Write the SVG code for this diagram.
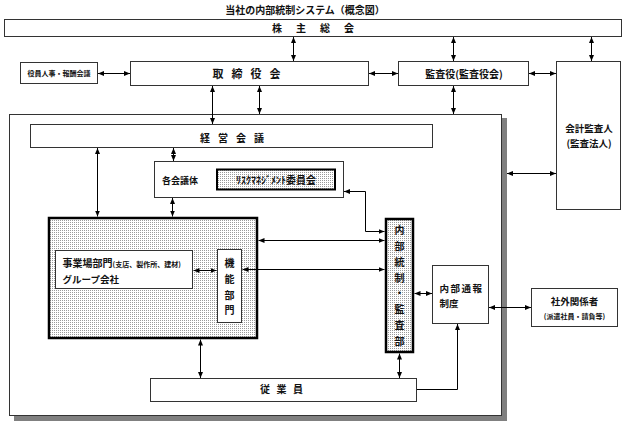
<svg xmlns="http://www.w3.org/2000/svg" width="625" height="423" viewBox="0 0 625 423">
<style>
.t{font-family:"Noto Sans CJK JP","Noto Sans CJK SC",sans-serif;font-weight:bold;fill:#111}
.b{fill:#fff;stroke:#333;stroke-width:1}
.k{fill:url(#dots);stroke:#000}
.c{fill:none;stroke:#000;stroke-width:1}
.a2{marker-start:url(#ah);marker-end:url(#ah)}
.a1{marker-end:url(#ah)}
</style>
<defs>
<pattern id="dots" width="2" height="2" patternUnits="userSpaceOnUse"><rect width="2" height="2" fill="#fff"/><rect width="1" height="1" fill="#9a9a9a"/></pattern>
<marker id="ah" viewBox="0 0 6 6" refX="6" refY="3" markerWidth="6" markerHeight="6" markerUnits="userSpaceOnUse" orient="auto-start-reverse"><path d="M0,0.5 L6,3 L0,5.5 z" fill="#000"/></marker>
</defs>
<rect width="625" height="423" fill="#fff"/>
<text class="t" x="305" y="13.5" font-size="10" text-anchor="middle">当社の内部統制システム（概念図）</text>

<g id="outer">
<rect x="14" y="118" width="493" height="303" fill="#808080"/>
<rect class="b" x="9.5" y="114.5" width="492" height="301"/>
</g>

<g id="kabunushi">
<rect class="b" x="4.5" y="19.5" width="617" height="17"/>
<text class="t" font-size="10" text-anchor="middle" x="277 301 325 349" y="31.5">株主総会</text>
</g>
<g id="yakuin">
<rect class="b" x="20.5" y="62.5" width="77" height="21"/>
<text class="t" font-size="7" text-anchor="middle" x="59" y="75.5">役員人事・報酬会議</text>
</g>
<g id="torishimariyaku">
<rect class="b" x="130.5" y="61.5" width="238" height="24"/>
<text class="t" font-size="11" text-anchor="middle" x="218 237 256 275" y="78">取締役会</text>
</g>
<g id="kansayaku">
<rect class="b" x="398.5" y="61.5" width="130" height="24"/>
<text class="t" font-size="10" text-anchor="middle" x="464" y="77.5">監査役(監査役会)</text>
</g>
<g id="kaikei">
<rect class="b" x="556.5" y="61.5" width="64" height="148"/>
<text class="t" font-size="9.5" text-anchor="middle" x="589" y="131.5">会計監査人</text>
<text class="t" font-size="9.5" text-anchor="middle" x="589" y="146.5">(監査法人)</text>
</g>
<g id="keiei">
<rect class="b" x="30.5" y="124.5" width="402" height="23"/>
<text class="t" font-size="10" text-anchor="middle" x="205 223 241 259" y="141.5">経営会議</text>
</g>
<g id="kakukaigi">
<rect class="b" x="154.5" y="161.5" width="189" height="36"/>
<text class="t" font-size="9" text-anchor="middle" x="180" y="183.5">各会議体</text>
</g>
<g id="risk">
<rect class="k" x="217" y="169.5" width="118" height="20" stroke-width="2"/>
<text class="t" font-size="10" text-anchor="middle" x="276" y="183.5">ﾘｽｸﾏﾈｼﾞﾒﾝﾄ委員会</text>
</g>
<g id="jigyo-group">
<rect class="k" x="49" y="218" width="208" height="120" stroke-width="2.5"/>
</g>
<g id="jigyo">
<rect class="b" x="55.5" y="250.5" width="137" height="38" stroke="#000" stroke-width="2"/>
<text class="t" x="62.5" y="267"><tspan font-size="10">事業場部門</tspan><tspan font-size="7">(支店、製作所、建材)</tspan></text>
<text class="t" font-size="9.5" x="62.5" y="282.5">グループ会社</text>
</g>
<g id="kino">
<rect class="b" x="217.5" y="249.5" width="24" height="73" stroke="#000" stroke-width="2"/>
<text class="t" font-size="10" text-anchor="middle" x="229.5" y="266.8">機</text>
<text class="t" font-size="10" text-anchor="middle" x="229.5" y="282.8">能</text>
<text class="t" font-size="10" text-anchor="middle" x="229.5" y="298.8">部</text>
<text class="t" font-size="10" text-anchor="middle" x="229.5" y="313.8">門</text>
</g>
<g id="naibutosei">
<rect class="k" x="386" y="219" width="27" height="133" stroke-width="2.5"/>
<text class="t" font-size="10" text-anchor="middle" x="399.5" y="233.8">内</text>
<text class="t" font-size="10" text-anchor="middle" x="399.5" y="249.8">部</text>
<text class="t" font-size="10" text-anchor="middle" x="399.5" y="265.8">統</text>
<text class="t" font-size="10" text-anchor="middle" x="399.5" y="281.8">制</text>
<text class="t" font-size="10" text-anchor="middle" x="399.5" y="296.8">・</text>
<text class="t" font-size="10" text-anchor="middle" x="399.5" y="312.8">監</text>
<text class="t" font-size="10" text-anchor="middle" x="399.5" y="328.8">査</text>
<text class="t" font-size="10" text-anchor="middle" x="399.5" y="344.8">部</text>
</g>
<g id="tsuho">
<rect class="b" x="432.5" y="265.5" width="56" height="58"/>
<text class="t" font-size="9.5" x="439.5" y="291.5" letter-spacing="1.5">内部通報</text>
<text class="t" font-size="9.5" x="439.5" y="306.5">制度</text>
</g>
<g id="shagai">
<rect class="b" x="531.5" y="288.5" width="86" height="38"/>
<text class="t" font-size="9.5" text-anchor="middle" x="574.5" y="304.5">社外関係者</text>
<text class="t" font-size="7" text-anchor="middle" x="574.5" y="318.5">(派遣社員・請負等)</text>
</g>
<g id="jugyoin">
<rect class="b" x="150.5" y="378.5" width="266" height="23"/>
<text class="t" font-size="10" text-anchor="middle" x="265 281.5 298" y="393">従業員</text>
</g>

<g id="connectors">
<line class="c a2" x1="293.5" y1="37" x2="293.5" y2="61"/>
<line class="c a2" x1="453.5" y1="37" x2="453.5" y2="61"/>
<line class="c a2" x1="591.5" y1="37" x2="591.5" y2="61"/>
<line class="c a2" x1="98" y1="73.5" x2="130" y2="73.5"/>
<line class="c a2" x1="369" y1="73.5" x2="398" y2="73.5"/>
<line class="c a2" x1="529" y1="73.5" x2="556" y2="73.5"/>
<line class="c a2" x1="212.5" y1="86" x2="212.5" y2="124"/>
<line class="c a2" x1="259.5" y1="86" x2="259.5" y2="114"/>
<line class="c a2" x1="453.5" y1="86" x2="453.5" y2="114"/>
<line class="c a2" x1="507" y1="173.5" x2="556" y2="173.5"/>
<line class="c a2" x1="97.5" y1="148" x2="97.5" y2="216.5"/>
<line class="c a2" x1="173.5" y1="148" x2="173.5" y2="161"/>
<line class="c a2" x1="172.5" y1="198" x2="172.5" y2="216.5"/>
<polyline class="c a2" points="344,191.5 365.5,191.5 365.5,231.5 384.5,231.5"/>
<line class="c a2" x1="258.5" y1="240.5" x2="384.5" y2="240.5"/>
<line class="c a2" x1="242.5" y1="269.5" x2="384.5" y2="269.5"/>
<line class="c a2" x1="193.5" y1="270.5" x2="216.5" y2="270.5"/>
<line class="c a2" x1="414.5" y1="293.5" x2="432" y2="293.5"/>
<line class="c a2" x1="489" y1="307.5" x2="531" y2="307.5"/>
<line class="c a2" x1="200.5" y1="339.5" x2="200.5" y2="378"/>
<line class="c a2" x1="399.5" y1="353.5" x2="399.5" y2="378"/>
<polyline class="c a1" points="417,389.5 457.5,389.5 457.5,324"/>
</g>
</svg>
